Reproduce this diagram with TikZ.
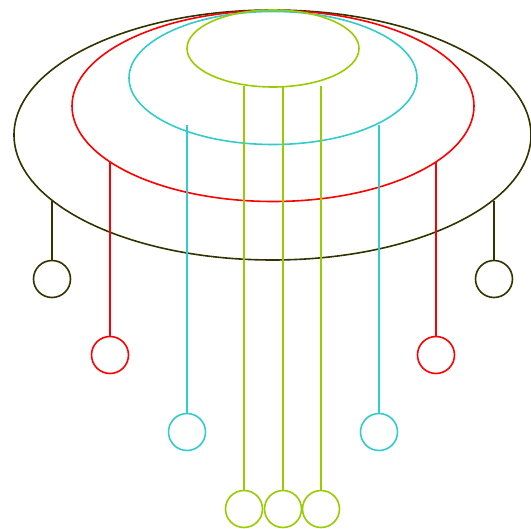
\documentclass[tikz,border=0pt]{standalone}
\usepackage{tikz}
\definecolor{olivedark}{HTML}{333300}
\definecolor{ringred}{HTML}{FF0000}
\definecolor{ringcyan}{HTML}{33CCCC}
\definecolor{ringgreen}{HTML}{99CC00}

\begin{document}
\begin{tikzpicture}[x=1pt,y=-1pt,line width=1.6pt,
  bob/.style={draw=#1,circle,inner sep=0pt,minimum size=37pt,fill=white}]
\useasboundingbox (0,0) rectangle (531,529);
% rings
\draw[olivedark] (272.5,135) ellipse [x radius=258.5,y radius=125];
\draw[ringred] (273,106) ellipse [x radius=201,y radius=95.5];
\draw[ringcyan] (273,78) ellipse [x radius=144,y radius=66.5];
\draw[ringgreen] (273,48.5) ellipse [x radius=86,y radius=38.5];
% hanging points
\coordinate (dL) at (52,201);   \coordinate (dR) at (494,201);
\coordinate (rL) at (110,162);  \coordinate (rR) at (436,162);
\coordinate (cL) at (187,125);  \coordinate (cR) at (379,125);
\coordinate (gL) at (244,86);   \coordinate (gM) at (283,87);
\coordinate (gR) at (321,86);
% bobs
\node[bob=olivedark] (bdL) at (52,279) {};
\node[bob=olivedark] (bdR) at (494,279) {};
\node[bob=ringred] (brL) at (110,355) {};
\node[bob=ringred] (brR) at (436,355) {};
\node[bob=ringcyan] (bcL) at (187,432) {};
\node[bob=ringcyan] (bcR) at (379,432) {};
\node[bob=ringgreen] (bgL) at (244,509) {};
\node[bob=ringgreen] (bgM) at (283,509) {};
\node[bob=ringgreen] (bgR) at (321,509) {};
% strings
\draw[olivedark] (dL) -- (bdL.north);
\draw[olivedark] (dR) -- (bdR.north);
\draw[ringred] (rL) -- (brL.north);
\draw[ringred] (rR) -- (brR.north);
\draw[ringcyan] (cL) -- (bcL.north);
\draw[ringcyan] (cR) -- (bcR.north);
\draw[ringgreen] (gL) -- (bgL.north);
\draw[ringgreen] (gM) -- (bgM.north);
\draw[ringgreen] (gR) -- (bgR.north);
\end{tikzpicture}
\end{document}
